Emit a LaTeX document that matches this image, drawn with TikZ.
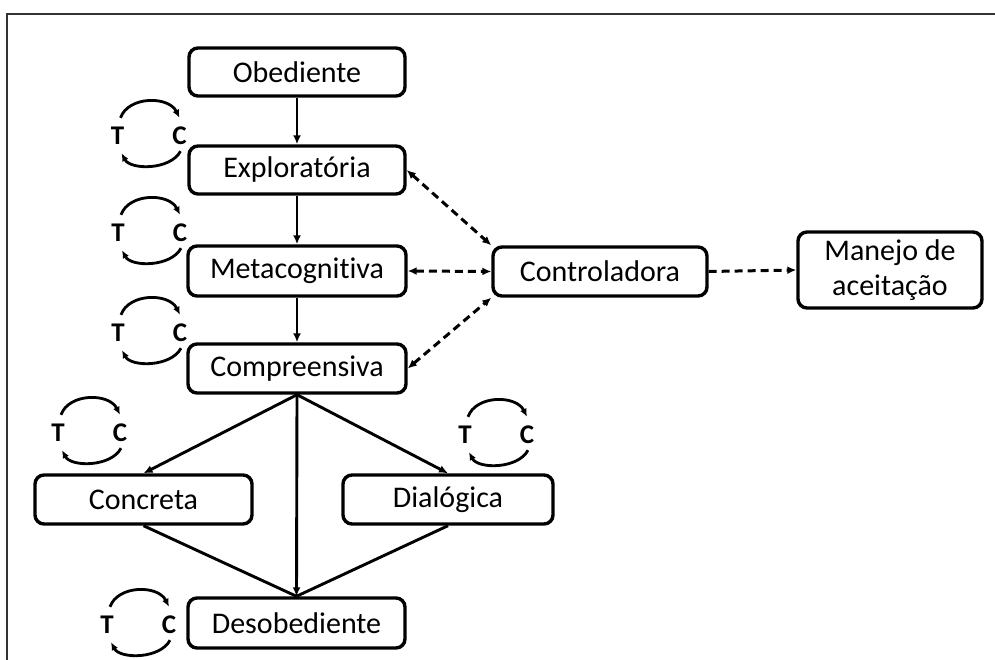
\documentclass[tikz,border=0pt]{standalone}
\usepackage{fontspec}
\setmainfont{Carlito}[Ligatures=NoCommon]
\usetikzlibrary{arrows.meta,calc}
\tikzset{
  box/.style={draw=black, line width=3.4pt, rounded corners=9pt, inner sep=0pt,
    font=\fontsize{30pt}{35pt}\selectfont, align=center},
  tc/.style={inner sep=0pt, minimum height=36pt, minimum width=14pt,
    font=\fontsize{27pt}{30pt}\selectfont\bfseries},
  arr/.style={line width=2.9pt, -{Latex[length=9pt,width=8pt]}},
  plainln/.style={line width=2.9pt},
  darr/.style={line width=3pt, dash pattern=on 8pt off 5pt,
    {Latex[length=9pt,width=8pt]}-{Latex[length=9pt,width=8pt]}},
  darrone/.style={line width=3pt, dash pattern=on 8pt off 5pt,
    -{Latex[length=9pt,width=8pt]}},
  cyc/.style={line width=2.8pt, -{Latex[length=8pt,width=7pt]}},
  framec/.style={draw=black!80, line width=2.2pt}
}
\newcommand{\tcloop}[3]{%
  \node[tc] (#1t) at (#2-31,#3) {T};
  \node[tc] (#1c) at (#2+31,#3) {C};
  \draw[cyc] ([xshift=3pt]#1t.north) .. controls ($(#1t.north)+(11,-22)$) and ($(#1c.north)+(-11,-22)$) .. ([xshift=0pt]#1c.north);
  \draw[cyc] ([xshift=1pt,yshift=3pt]#1c.south) .. controls ($(#1c.south)+(-9,16)$) and ($(#1t.south)+(13,16)$) .. ([xshift=4pt,yshift=1pt]#1t.south);
}
\begin{document}
\begin{tikzpicture}[x=1pt,y=-1pt]
\useasboundingbox (0,0) rectangle (995,660);
\draw[framec] (7,660) -- (7,14) -- (995,14);

\node[box, minimum width=216pt, minimum height=48pt] (ob) at (297,72) {Obediente};
\node[box, minimum width=216pt, minimum height=48pt] (ex) at (297,170) {Exploratória};
\node[box, minimum width=218pt, minimum height=50pt] (me) at (297,271) {Metacognitiva};
\node[box, minimum width=218pt, minimum height=49pt] (co) at (297,368.5) {Compreensiva};
\node[box, minimum width=214pt, minimum height=49pt] (ctl) at (600,271.5) {Controladora};
\node[box, minimum width=184pt, minimum height=76pt] (man) at (890,270) {Manejo de\\aceitação};
\node[box, minimum width=217pt, minimum height=49pt] (conc) at (143.5,499.5) {Concreta};
\node[box, minimum width=210pt, minimum height=49pt] (dia) at (448,499.5) {Dialógica};
\node[box, minimum width=217pt, minimum height=50pt] (des) at (296.5,623) {Desobediente};

\draw[arr] (ob) -- (ex);
\draw[arr] (ex) -- (me);
\draw[arr] (me) -- (co);
\draw[arr] (co.south) -- (conc.north);
\draw[arr] (co.south) -- (dia.north);
\draw[arr] (co.south) -- (des.north);
\draw[plainln] (conc.south) -- (des.north);
\draw[plainln] (dia.south) -- (des.north);

\draw[darr] (ex.east) -- (ctl.north west);
\draw[darr] (me.east) -- (ctl.west);
\draw[darr] (co.east) -- (ctl.south west);
\draw[darrone] (ctl.east) -- (man.west);

\tcloop{a}{148.5}{136}
\tcloop{b}{149}{233}
\tcloop{c}{149}{333}
\tcloop{d}{89}{433}
\tcloop{e}{496}{435}
\tcloop{f}{138}{625}
\end{tikzpicture}
\end{document}
